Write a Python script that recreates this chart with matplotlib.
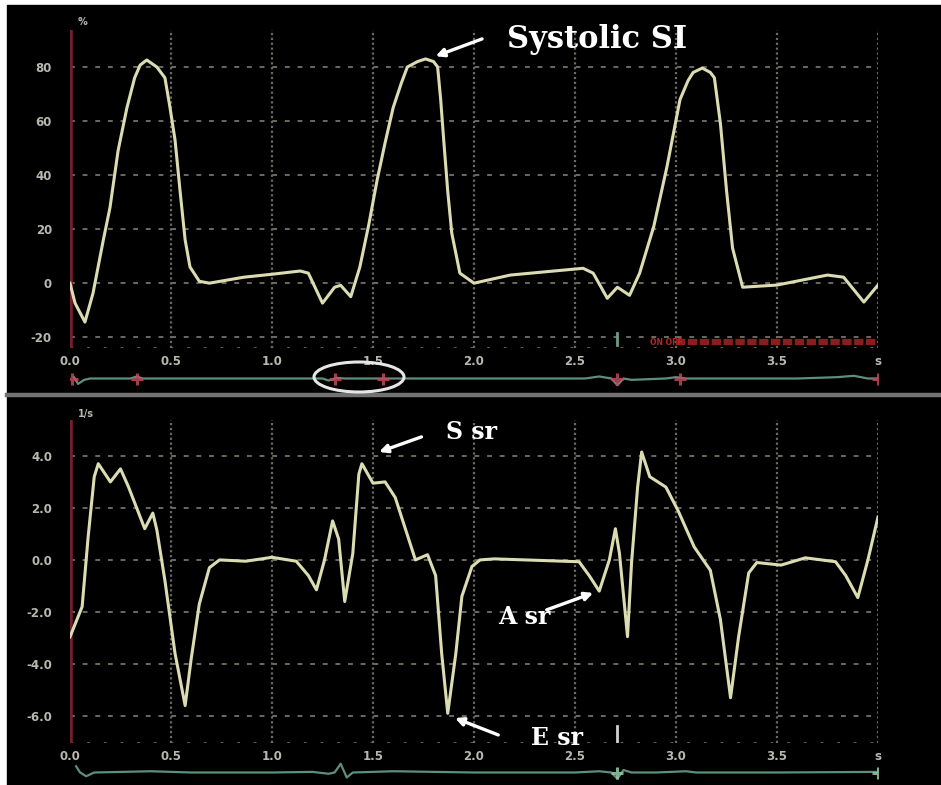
import matplotlib
matplotlib.use("Agg")
import matplotlib.pyplot as plt
import numpy as np
from matplotlib.patches import Rectangle, Ellipse
from matplotlib.lines import Line2D

# ---------------- data ----------------
strain_t = [0.00, 0.025, 0.074, 0.114, 0.165, 0.198, 0.238, 0.282, 0.32, 0.347, 0.38, 0.43, 0.47,
            0.495, 0.52, 0.545, 0.57, 0.594, 0.64, 0.69, 0.86, 1.00, 1.14, 1.18, 1.25, 1.31,
            1.34, 1.39, 1.435, 1.48, 1.52, 1.56, 1.60, 1.64, 1.67, 1.72, 1.76, 1.80, 1.82, 1.835,
            1.85, 1.87, 1.89, 1.93, 2.00, 2.18, 2.54, 2.59, 2.66, 2.71, 2.77, 2.82, 2.89, 2.955,
            3.02, 3.06, 3.085, 3.13, 3.17, 3.19, 3.22, 3.25, 3.28, 3.33, 3.50, 3.75, 3.83, 3.93, 4.00]
strain_v = [0.0, -7.4, -14.4, -3.7, 16.0, 28.0, 49.0, 65.0, 76.0, 80.7, 82.6, 80.0, 76.0,
            65.0, 53.0, 34.0, 16.0, 6.0, 0.7, 0.0, 2.2, 3.3, 4.5, 3.7, -7.4, -1.5,
            -0.8, -5.0, 6.0, 22.0, 38.0, 52.0, 65.0, 74.0, 80.0, 82.0, 83.0, 82.0, 80.0, 68.0,
            53.0, 34.0, 18.5, 3.7, 0.0, 3.0, 5.5, 3.7, -5.6, -1.5, -4.5, 3.7, 21.0, 43.0,
            68.0, 75.0, 78.0, 79.6, 78.0, 76.0, 59.0, 34.4, 13.0, -1.5, -0.7, 3.0, 2.2, -7.0, -0.7]

sr_t = [0.00, 0.06, 0.09, 0.12, 0.14, 0.20, 0.25, 0.29, 0.32, 0.37, 0.41, 0.43, 0.47, 0.52, 0.57,
        0.60, 0.64, 0.69, 0.74, 0.87, 1.00, 1.12, 1.18, 1.22, 1.26, 1.30, 1.33, 1.36, 1.40, 1.43,
        1.445, 1.50, 1.56, 1.61, 1.71, 1.77, 1.81, 1.84, 1.87, 1.91, 1.94, 1.99, 2.03, 2.10, 2.52,
        2.57, 2.62, 2.67, 2.70, 2.72, 2.76, 2.78, 2.81, 2.83, 2.87, 2.95, 3.01, 3.09, 3.17, 3.22,
        3.27, 3.31, 3.36, 3.40, 3.52, 3.64, 3.79, 3.84, 3.90, 3.95, 4.00]
sr_v = [-2.96, -1.8, 0.9, 3.2, 3.7, 3.0, 3.5, 2.8, 2.2, 1.2, 1.8, 1.15, -0.8, -3.6, -5.6,
        -3.8, -1.7, -0.3, 0.0, -0.05, 0.1, -0.05, -0.6, -1.15, 0.0, 1.5, 0.8, -1.6, 0.25, 3.3,
        3.7, 2.95, 3.0, 2.4, 0.0, 0.2, -0.6, -3.6, -5.9, -3.6, -1.4, -0.25, 0.0, 0.04, -0.07,
        -0.6, -1.2, 0.0, 1.2, 0.25, -2.95, -0.1, 2.8, 4.15, 3.2, 2.8, 1.9, 0.5, -0.4, -2.3,
        -5.3, -2.95, -0.5, -0.1, -0.2, 0.08, -0.07, -0.6, -1.45, 0.0, 1.65]

ecg1_t = [0.02, 0.04, 0.07, 0.10, 0.30, 0.33, 0.36, 0.60, 1.25, 1.28, 1.32, 1.36, 1.60, 2.55, 2.62,
          2.68, 2.71, 2.74, 2.78, 2.95, 3.00, 3.05, 3.10, 3.60, 3.80, 3.88, 3.95, 4.00]
ecg1_v = [0.1, -0.4, -0.1, 0.0, 0.0, 0.15, 0.0, 0.0, 0.0, -0.15, 0.05, 0.0, 0.0, 0.0, 0.15,
          0.0, -0.5, 0.0, -0.1, 0.0, 0.1, 0.0, 0.0, 0.0, 0.1, 0.2, 0.0, 0.0]
ecg1_marks = [0.01, 0.33, 1.31, 1.55, 2.71, 3.02, 4.00]

ecg2_t = [0.03, 0.05, 0.08, 0.12, 0.40, 0.60, 1.00, 1.20, 1.28, 1.31, 1.34, 1.37, 1.40, 1.60, 2.00,
          2.50, 2.62, 2.68, 2.71, 2.74, 2.78, 2.90, 3.05, 3.10, 3.50, 4.00]
ecg2_v = [0.5, 0.0, -0.3, 0.0, 0.1, 0.0, 0.0, 0.05, -0.1, 0.0, 0.7, -0.4, 0.0, 0.1, 0.0,
          0.0, 0.1, 0.0, -0.5, 0.2, 0.0, 0.0, 0.1, 0.0, 0.0, 0.05]
ecg2_marks = [2.71, 4.00]

x_ticks = [0.0, 0.5, 1.0, 1.5, 2.0, 2.5, 3.0, 3.5, 4.0]
x_labels = ["0.0", "0.5", "1.0", "1.5", "2.0", "2.5", "3.0", "3.5", "s"]
strain_ticks = [80, 60, 40, 20, 0, -20]
strain_labels = ["80", "60", "40", "20", "0", "-20"]
sr_ticks = [4.0, 2.0, 0.0, -2.0, -4.0, -6.0]
sr_labels = ["4.0", "2.0", "0.0", "-2.0", "-4.0", "-6.0"]

# ---------------- style ----------------
W, H = 941, 785
CURVE = "#dcdcb2"
GRID = "#6a6a60"
TICKC = "#b8b8ae"
AXRED = "#75202e"
ECGC = "#5d8f7c"
MARKRED = "#c04a5a"

fig = plt.figure(figsize=(W / 100, H / 100), dpi=100, facecolor="white")


def fx(px):
    return px / W


def fy(py):
    return 1 - py / H


fig.add_artist(Rectangle((fx(7), 0), 1 - fx(7), fy(5), transform=fig.transFigure,
                         color="black", zorder=-10))
fig.add_artist(Line2D([fx(7), 1], [fy(395), fy(395)], transform=fig.transFigure,
                      color="#727272", lw=3.2, zorder=5))


def setup(ax, ylim, yt, yl):
    ax.set_facecolor("none")
    ax.set_xlim(0, 4.0)
    ax.set_ylim(*ylim)
    for s in ax.spines.values():
        s.set_visible(False)
    ax.set_yticks(yt)
    ax.set_yticklabels(yl, color=TICKC, fontsize=8.5, fontweight="bold")
    ax.set_xticks(x_ticks)
    ax.set_xticklabels(x_labels, color=TICKC, fontsize=8.5, fontweight="bold")
    ax.tick_params(length=0, axis="y", pad=13)
    ax.tick_params(length=0, axis="x", pad=5)
    for y in yt:
        ax.plot([0, 4.0], [y, y], color=GRID, lw=1.4, ls=(0, (2.5, 4)), zorder=1)
    for x in x_ticks[1:]:
        ax.plot([x, x], list(ylim), color=GRID, lw=1.6, ls=(0, (1, 1.2)), zorder=1)
    ax.plot([0, 4.0], [ylim[0], ylim[0]], color=GRID, lw=2.0, ls=(0, (1, 5)), zorder=1)
    ax.plot([0, 0], list(ylim), color=AXRED, lw=4, zorder=2, solid_capstyle="butt")


# top panel (strain)
ax1 = fig.add_axes([fx(70), fy(348), fx(808), 318 / H])
setup(ax1, (-24.0, 93.7), strain_ticks, strain_labels)
ax1.plot(strain_t, strain_v, color=CURVE, lw=2.2, zorder=3, solid_joinstyle="round")

# red status bar + marker in top panel
ax1.plot([3.0, 4.0], [-21.8, -21.8], color="#8e1c1c", lw=4.5, ls=(0, (1.5, 0.4)), zorder=2)
ax1.text(2.87, -21.8, "ON OFF", color="#b82626", fontsize=5.5, fontweight="bold",
         va="center", ha="left", zorder=3)
ax1.plot([2.71, 2.71], [-18.5, -23.0], color="#6f9a80", lw=2, zorder=3)

# bottom panel (strain rate)
ax2 = fig.add_axes([fx(70), fy(743), fx(808), 323 / H])
setup(ax2, (-7.04, 5.38), sr_ticks, sr_labels)
ax2.plot(sr_t, sr_v, color=CURVE, lw=2.2, zorder=3, solid_joinstyle="round")
ax2.plot([2.71, 2.71], [-6.4, -7.0], color="#d0d0d0", lw=2, zorder=3)

# units
fig.text(fx(78), fy(22), "%", color=TICKC, fontsize=7, fontweight="bold", va="center")
fig.text(fx(78), fy(414), "1/s", color=TICKC, fontsize=7, fontweight="bold", va="center")

# ECG strips
ax3 = fig.add_axes([fx(70), fy(392), fx(808), 27 / H])
ax4 = fig.add_axes([fx(70), fy(785), fx(808), 25 / H])
for ax in (ax3, ax4):
    ax.set_facecolor("none")
    ax.set_xlim(0, 4.0)
    ax.set_ylim(-1, 1)
    ax.axis("off")
ax3.plot(ecg1_t, ecg1_v, color=ECGC, lw=1.6)
ax3.plot(ecg1_marks, [0.0] * len(ecg1_marks), ls="none", marker="+", ms=8, mew=2.2,
         color=MARKRED, alpha=0.85)
ax4.plot(ecg2_t, ecg2_v, color=ECGC, lw=1.6)
ax4.plot(ecg2_marks, [0.0] * len(ecg2_marks), ls="none", marker="+", ms=8, mew=2.2,
         color="#8fc0a0", alpha=0.9)

fig.add_artist(Ellipse((fx(359), fy(377)), fx(90), 30 / H, transform=fig.transFigure,
                       fill=False, edgecolor="#e6e6e6", lw=2.2, zorder=6))

# annotations
st = np.array(strain_t)
sv = np.array(strain_v)
m2 = (st > 1.5) & (st < 2.2)
i2 = np.argmax(np.where(m2, sv, -1e9))
arrow = dict(arrowstyle="-|>", color="white", lw=2.4, mutation_scale=12, shrinkA=0, shrinkB=0)
tfont = dict(color="white", fontweight="bold", family="DejaVu Serif", ha="center", va="center",
             zorder=7)

ax1.annotate("", xy=(st[i2] + 0.05, sv[i2] + 1.0), xytext=(2.04, 90.4), arrowprops=arrow, zorder=7)
ax1.text(2.61, 90.0, "Systolic SI", fontsize=22, **tfont)

ax2.annotate("", xy=(1.53, 4.15), xytext=(1.74, 4.73), arrowprops=arrow, zorder=7)
ax2.text(1.99, 4.92, "S sr", fontsize=17, **tfont)
ax2.annotate("", xy=(2.59, -1.27), xytext=(2.36, -1.92), arrowprops=arrow, zorder=7)
ax2.text(2.25, -2.19, "A sr", fontsize=17, **tfont)
ax2.annotate("", xy=(1.906, -6.08), xytext=(2.12, -6.73), arrowprops=arrow, zorder=7)
ax2.text(2.41, -6.85, "E sr", fontsize=17, **tfont)

fig.savefig("out.png", dpi=100, facecolor=fig.get_facecolor())
